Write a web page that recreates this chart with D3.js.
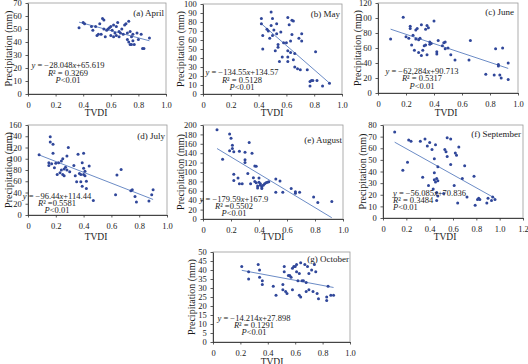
<!DOCTYPE html>
<html><head><meta charset="utf-8">
<script src="https://cdn.jsdelivr.net/npm/d3@7"></script>
<style>
body{margin:0;background:#fff}
svg{display:block}
text{font-family:"Liberation Serif","Times New Roman",serif;fill:#1a1a1a}
</style>
</head><body>
<svg id="chart" width="528" height="364"></svg>
<script>
// ---------------- DATA ----------------
const panelTitles = ["(a) April","(b) May","(c) June","(d) July","(e) August","(f) September","(g) October"];
const yMaxes = [70,100,120,160,200,80,50];
const yTickSteps = [10,10,20,20,20,10,5];
const xMaxes = [1.0,1.0,1.0,1.0,1.0,1.2,1.0];
const equations = ["y = \u221228.048x+65.619","y = \u2212134.55x+134.57","y = \u221262,284x+90.713","y = \u221296.44x+114.44","y = \u2212179.59x+167.9","y = \u221256.085x+70.836","y = \u221214.214x+27.898"];
const r2Texts = ["= 0.3269","= 0.5128","= 0.5317","=0.5581","=0.5502","= 0.3484","= 0.1291"];
const pTexts = ["<0.01","<0.01","<0.01","<0.01","<0.01","<0.01","<0.01"];
const lineSlopes = [-28.048,-134.55,-62.284,-96.44,-179.59,-56.085,-14.214];
const lineIntercepts = [65.619,134.57,90.713,114.44,167.9,70.836,42.8];

const aprilPoints = [[0.37,51],[0.40,55],[0.41,54],[0.46,52],[0.47,49],[0.49,52],[0.50,45],[0.51,46],[0.52,54],[0.53,46],[0.54,58],[0.55,57],[0.55,50],[0.56,44],[0.57,49],[0.58,50],[0.59,51],[0.60,52],[0.60,45],[0.61,49],[0.62,53],[0.62,44],[0.63,47],[0.64,52],[0.64,45],[0.65,55],[0.66,48],[0.66,44],[0.67,47],[0.68,50],[0.69,46],[0.70,53],[0.71,54],[0.72,47],[0.72,42],[0.73,56],[0.73,40],[0.74,38],[0.74,48],[0.75,44],[0.75,38],[0.76,46],[0.76,41],[0.77,38],[0.79,47],[0.80,42],[0.82,46],[0.83,35],[0.84,35],[0.88,43]];
const mayPoints = [[0.42,84],[0.42,78],[0.43,65],[0.43,50],[0.46,72],[0.47,70],[0.48,62],[0.49,91],[0.49,76],[0.50,84],[0.50,65],[0.51,71],[0.52,48],[0.53,78],[0.53,67],[0.54,55],[0.54,52],[0.55,36],[0.56,69],[0.57,41],[0.58,57],[0.60,57],[0.61,85],[0.61,48],[0.61,41],[0.61,36],[0.62,77],[0.63,59],[0.63,46],[0.64,82],[0.64,66],[0.65,81],[0.65,38],[0.66,30],[0.66,45],[0.68,28],[0.69,62],[0.70,27],[0.71,67],[0.71,59],[0.75,27],[0.77,14],[0.77,9],[0.78,15],[0.79,15],[0.81,47],[0.82,15],[0.86,9],[0.91,12]];
const junePoints = [[0.09,72],[0.18,101],[0.20,75],[0.22,73],[0.23,89],[0.23,86],[0.24,64],[0.25,77],[0.26,57],[0.27,84],[0.27,72],[0.28,86],[0.29,71],[0.29,54],[0.30,73],[0.31,50],[0.31,91],[0.32,57],[0.33,63],[0.34,64],[0.34,85],[0.35,90],[0.35,51],[0.36,87],[0.37,68],[0.37,65],[0.38,66],[0.40,96],[0.42,55],[0.42,52],[0.43,70],[0.46,63],[0.47,67],[0.48,68],[0.48,59],[0.50,60],[0.52,51],[0.55,44],[0.65,44],[0.66,70],[0.77,25],[0.83,24],[0.84,59],[0.86,38],[0.86,36],[0.87,24],[0.88,20],[0.89,60],[0.93,40],[0.93,18]];
const julyPoints = [[0.08,107],[0.15,93],[0.15,88],[0.16,139],[0.16,130],[0.17,91],[0.18,110],[0.18,126],[0.19,84],[0.20,92],[0.21,72],[0.22,93],[0.23,75],[0.24,80],[0.24,96],[0.25,100],[0.25,72],[0.26,82],[0.26,70],[0.27,85],[0.28,80],[0.28,105],[0.29,120],[0.30,77],[0.33,88],[0.34,70],[0.35,59],[0.36,108],[0.37,74],[0.38,59],[0.38,72],[0.39,93],[0.39,51],[0.40,72],[0.40,83],[0.40,110],[0.41,78],[0.41,70],[0.42,47],[0.42,60],[0.44,87],[0.47,26],[0.63,36],[0.64,71],[0.67,81],[0.74,43],[0.75,45],[0.77,33],[0.78,23],[0.87,25],[0.89,36],[0.90,45]];
const augustPoints = [[0.10,190],[0.14,127],[0.19,181],[0.19,145],[0.20,172],[0.21,157],[0.21,150],[0.22,143],[0.22,95],[0.22,82],[0.25,87],[0.26,144],[0.26,75],[0.28,75],[0.30,142],[0.30,126],[0.30,120],[0.32,97],[0.33,163],[0.34,75],[0.35,140],[0.36,88],[0.37,113],[0.37,80],[0.38,112],[0.38,77],[0.39,70],[0.39,66],[0.40,78],[0.40,87],[0.41,72],[0.41,75],[0.42,68],[0.42,65],[0.43,72],[0.44,75],[0.45,77],[0.46,78],[0.47,79],[0.52,85],[0.52,57],[0.55,81],[0.57,57],[0.63,65],[0.66,58],[0.66,55],[0.69,57],[0.79,47],[0.82,35],[0.92,37]];
const septemberPoints = [[0.10,74],[0.17,41],[0.21,48],[0.22,67],[0.24,66],[0.32,66],[0.34,35],[0.36,68],[0.38,62],[0.39,28],[0.40,65],[0.42,59],[0.43,25],[0.44,51],[0.44,39],[0.44,33],[0.45,31],[0.45,63],[0.46,34],[0.46,15],[0.46,22],[0.47,32],[0.47,19],[0.47,44],[0.52,21],[0.53,59],[0.54,57],[0.55,69],[0.55,53],[0.58,68],[0.58,46],[0.61,28],[0.62,56],[0.63,54],[0.64,13],[0.65,61],[0.68,34],[0.70,45],[0.72,18],[0.78,36],[0.79,11],[0.81,16],[0.82,17],[0.83,16],[0.89,13],[0.90,17],[0.93,15],[0.94,18],[0.96,16]];
const octoberPoints = [[0.21,42],[0.26,39],[0.26,35],[0.33,43],[0.34,40],[0.34,36],[0.36,34],[0.36,32],[0.44,31],[0.46,26],[0.51,32],[0.51,29],[0.52,42],[0.52,39],[0.53,28],[0.54,27],[0.55,37],[0.56,37],[0.57,36],[0.58,41],[0.58,29],[0.59,42],[0.60,42],[0.61,43],[0.61,39],[0.62,34],[0.63,38],[0.63,26],[0.64,44],[0.64,25],[0.65,34],[0.66,34],[0.67,43],[0.68,28],[0.68,33],[0.69,42],[0.70,38],[0.70,29],[0.72,40],[0.73,28],[0.74,43],[0.75,39],[0.76,27],[0.77,24],[0.83,25],[0.83,23],[0.84,31],[0.86,26],[0.88,26]];
const allPoints = [aprilPoints,mayPoints,junePoints,julyPoints,augustPoints,septemberPoints,octoberPoints];

// ---------------- LAYOUT ----------------
const layout = [
  {l:28, r:166, t:3,   b:94,  ytx:8,   xlx:96,  xly:116, eq:{x:68, a:"middle", y:[68,75.5,83]}, ttl:[164,16]},
  {l:203,r:342, t:4,   b:94,  ytx:180, xlx:272, xly:116, eq:{x:242,a:"middle", y:[75,83,90]},  ttl:[340,17]},
  {l:378,r:518, t:3,   b:93,  ytx:357, xlx:446, xly:116, eq:{x:422,a:"middle", y:[74,81,89]},  ttl:[514,15]},
  {l:28, r:167, t:125, b:215, ytx:8,   xlx:96,  xly:240, eq:{x:57, a:"middle", y:[199,206,213]}, ttl:[165,139]},
  {l:203,r:343, t:125, b:219, ytx:180, xlx:273, xly:240, eq:{x:234,a:"middle", y:[202,209,216]}, ttl:[342,143]},
  {l:383,r:523, t:125, b:218, ytx:362, xlx:445, xly:240, eq:{x:393,a:"start",  y:[196,203,210]}, ttl:[521,137]},
  {l:213,r:350, t:252, b:342, ytx:191, xlx:272, xly:365, eq:{x:254,a:"middle", y:[321,328,335]}, ttl:[349,262]}
];

const svg = d3.select("#chart");
const dotColor = "#30479a", lineColor = "#6c8cc6";

allPoints.forEach((pts, i) => {
  const L = layout[i];
  const x = d3.scaleLinear().domain([0, xMaxes[i]]).range([L.l, L.r]);
  const y = d3.scaleLinear().domain([0, yMaxes[i]]).range([L.b, L.t]);
  const g = svg.append("g");

  // plot frame
  g.append("rect").attr("x",L.l).attr("y",L.t).attr("width",L.r-L.l).attr("height",L.b-L.t)
    .attr("fill","none").attr("stroke","#9a9a9a").attr("stroke-width",0.8);

  // axes
  const xticks = d3.range(0, xMaxes[i]+1e-9, 0.2);
  const yticks = d3.range(0, yMaxes[i]+1e-9, yTickSteps[i]);
  const xa = g.append("g").attr("transform",`translate(0,${L.b})`)
    .call(d3.axisBottom(x).tickValues(xticks).tickSize(2.5).tickSizeOuter(0)
      .tickFormat(d => d===0 ? "0" : d3.format(".1f")(d)));
  const ya = g.append("g").attr("transform",`translate(${L.l},0)`)
    .call(d3.axisLeft(y).tickValues(yticks).tickSize(2.5).tickSizeOuter(0).tickFormat(d3.format("d")));
  [xa,ya].forEach(a => {
    a.select(".domain").attr("stroke","#333").attr("stroke-width",0.9);
    a.selectAll(".tick line").attr("stroke","#333").attr("stroke-width",0.8);
    a.selectAll(".tick text").attr("font-size",8.5).attr("fill","#1a1a1a")
      .attr("font-family",'"Liberation Serif",serif');
  });
  xa.selectAll(".tick text").attr("dy","0.95em");
  ya.selectAll(".tick text").attr("dx","-0.1em");

  // regression line
  const ext = d3.extent(pts, d => d[0]);
  const f = t => lineSlopes[i]*t + lineIntercepts[i];
  g.append("line").attr("x1",x(ext[0])).attr("y1",y(f(ext[0])))
    .attr("x2",x(ext[1])).attr("y2",y(f(ext[1])))
    .attr("stroke",lineColor).attr("stroke-width",1);

  // points
  g.selectAll("circle").data(pts).join("circle")
    .attr("cx",d=>x(d[0])).attr("cy",d=>y(d[1])).attr("r",1.5).attr("fill",dotColor);

  // titles
  g.append("text").attr("x",L.ttl[0]).attr("y",L.ttl[1]).attr("text-anchor","end")
    .attr("font-size",9).text(panelTitles[i]);
  g.append("text").attr("transform",`translate(${L.ytx},${(L.t+L.b)/2}) rotate(-90)`)
    .attr("text-anchor","middle").attr("dominant-baseline","central").attr("font-size",10)
    .text("Precipitation (mm)");
  g.append("text").attr("x",L.xlx).attr("y",L.xly).attr("text-anchor","middle")
    .attr("font-size",9.5).text("TVDI");

  // equation block
  const e1 = g.append("text").attr("x",L.eq.x).attr("y",L.eq.y[0]).attr("text-anchor",L.eq.a).attr("font-size",8.5);
  const eq = equations[i];
  const xi = eq.lastIndexOf("x");
  e1.append("tspan").attr("font-style","italic").text("y");
  e1.append("tspan").text(eq.slice(1, xi));
  e1.append("tspan").attr("font-style","italic").text("x");
  e1.append("tspan").text(eq.slice(xi+1));
  const e2 = g.append("text").attr("x",L.eq.x).attr("y",L.eq.y[1]).attr("text-anchor",L.eq.a).attr("font-size",8.5);
  e2.append("tspan").attr("font-style","italic").text("R");
  e2.append("tspan").text("\u00B2 " + r2Texts[i]);
  const e3 = g.append("text").attr("x",L.eq.x).attr("y",L.eq.y[2]).attr("text-anchor",L.eq.a).attr("font-size",8.5);
  e3.append("tspan").attr("font-style","italic").text("P");
  e3.append("tspan").text(pTexts[i]);
});
</script>
</body></html>
